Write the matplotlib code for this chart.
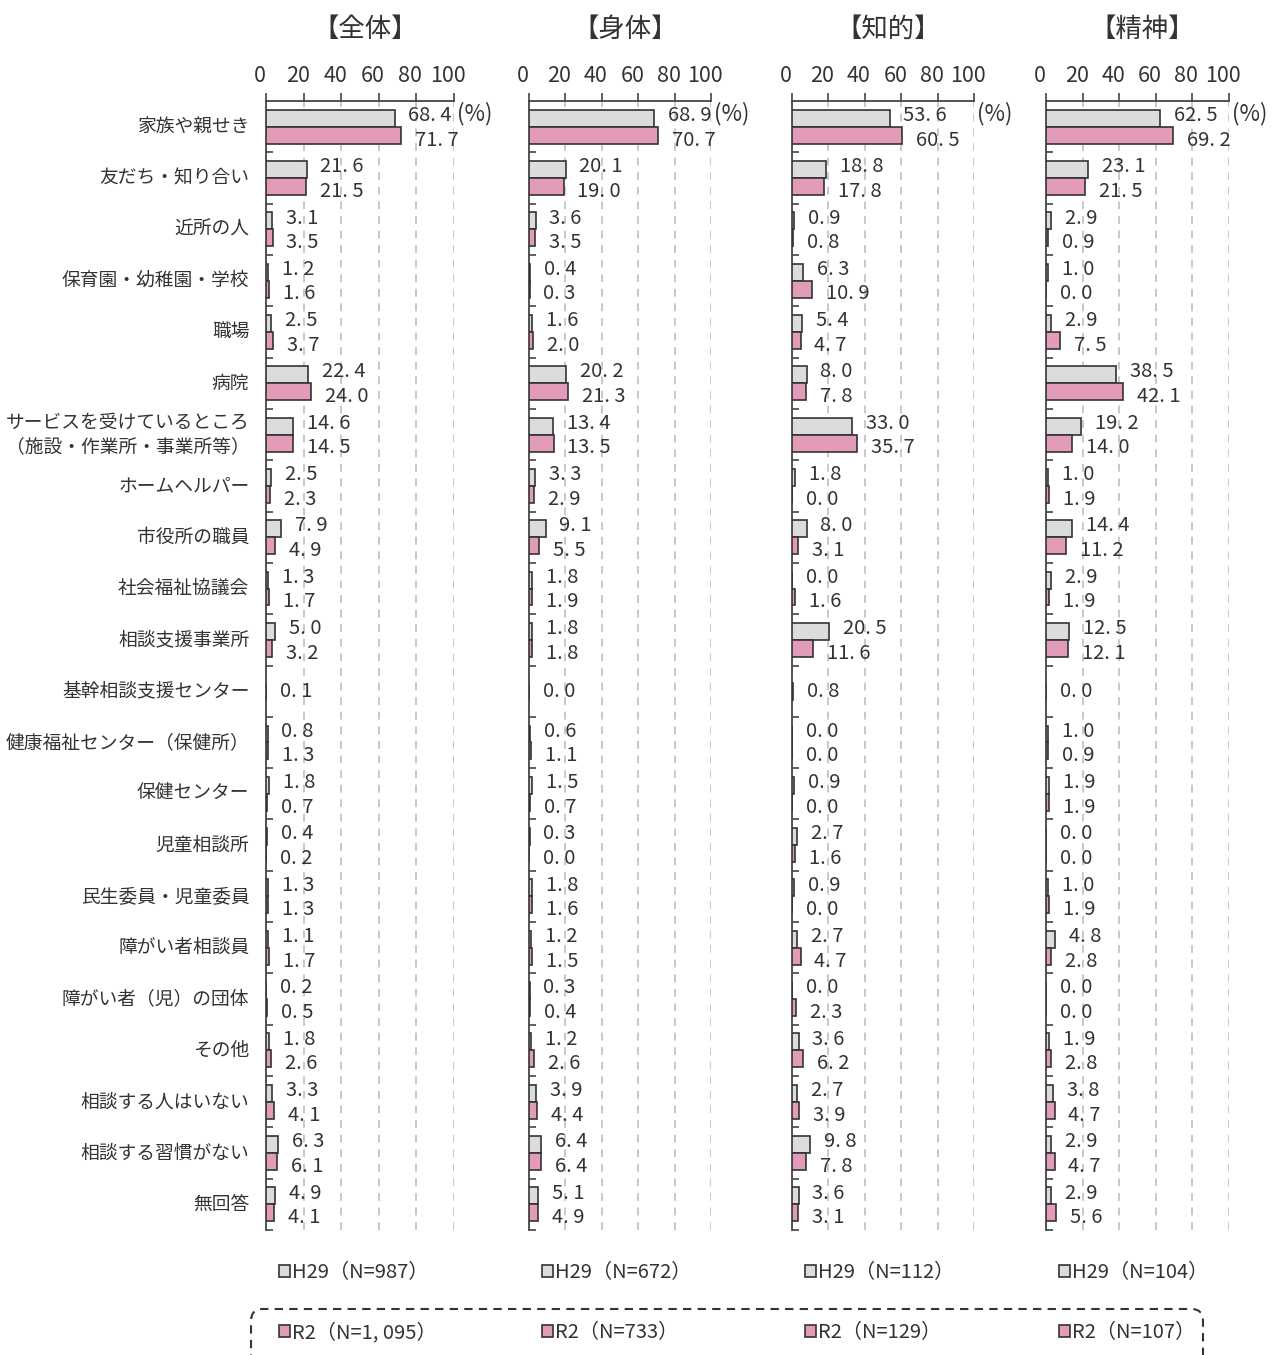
import numpy as np
import matplotlib
matplotlib.use("Agg")
import matplotlib.pyplot as plt
import matplotlib.transforms as mtransforms
from matplotlib.patches import FancyBboxPatch

plt.rcParams['font.family'] = ['Noto Sans CJK JP', 'DejaVu Sans']

categories = [
    "家族や親せき",
    "友だち・知り合い",
    "近所の人",
    "保育園・幼稚園・学校",
    "職場",
    "病院",
    "サービスを受けているところ\n（施設・作業所・事業所等）",
    "ホームヘルパー",
    "市役所の職員",
    "社会福祉協議会",
    "相談支援事業所",
    "基幹相談支援センター",
    "健康福祉センター（保健所）",
    "保健センター",
    "児童相談所",
    "民生委員・児童委員",
    "障がい者相談員",
    "障がい者（児）の団体",
    "その他",
    "相談する人はいない",
    "相談する習慣がない",
    "無回答",
]

panel_titles = ["【全体】", "【身体】", "【知的】", "【精神】"]
h29_labels = ["H29（N=987）", "H29（N=672）", "H29（N=112）", "H29（N=104）"]
r2_labels = ["R2（N=1, 095）", "R2（N=733）", "R2（N=129）", "R2（N=107）"]

# None: item not asked in H29
all_h29 = [68.4, 21.6, 3.1, 1.2, 2.5, 22.4, 14.6, 2.5, 7.9, 1.3, 5.0, None,
           0.8, 1.8, 0.4, 1.3, 1.1, 0.2, 1.8, 3.3, 6.3, 4.9]
all_r2 = [71.7, 21.5, 3.5, 1.6, 3.7, 24.0, 14.5, 2.3, 4.9, 1.7, 3.2, 0.1,
          1.3, 0.7, 0.2, 1.3, 1.7, 0.5, 2.6, 4.1, 6.1, 4.1]

phys_h29 = [68.9, 20.1, 3.6, 0.4, 1.6, 20.2, 13.4, 3.3, 9.1, 1.8, 1.8, None,
            0.6, 1.5, 0.3, 1.8, 1.2, 0.3, 1.2, 3.9, 6.4, 5.1]
phys_r2 = [70.7, 19.0, 3.5, 0.3, 2.0, 21.3, 13.5, 2.9, 5.5, 1.9, 1.8, 0.0,
           1.1, 0.7, 0.0, 1.6, 1.5, 0.4, 2.6, 4.4, 6.4, 4.9]

intel_h29 = [53.6, 18.8, 0.9, 6.3, 5.4, 8.0, 33.0, 1.8, 8.0, 0.0, 20.5, None,
             0.0, 0.9, 2.7, 0.9, 2.7, 0.0, 3.6, 2.7, 9.8, 3.6]
intel_r2 = [60.5, 17.8, 0.8, 10.9, 4.7, 7.8, 35.7, 0.0, 3.1, 1.6, 11.6, 0.8,
            0.0, 0.0, 1.6, 0.0, 4.7, 2.3, 6.2, 3.9, 7.8, 3.1]

mental_h29 = [62.5, 23.1, 2.9, 1.0, 2.9, 38.5, 19.2, 1.0, 14.4, 2.9, 12.5, None,
              1.0, 1.9, 0.0, 1.0, 4.8, 0.0, 1.9, 3.8, 2.9, 2.9]
mental_r2 = [69.2, 21.5, 0.9, 0.0, 7.5, 42.1, 14.0, 1.9, 11.2, 1.9, 12.1, 0.0,
             0.9, 1.9, 0.0, 1.9, 2.8, 0.0, 2.8, 4.7, 4.7, 5.6]

panels = [(all_h29, all_r2), (phys_h29, phys_r2),
          (intel_h29, intel_r2), (mental_h29, mental_r2)]

W, H = 1277, 1355
fig = plt.figure(figsize=(W / 100, H / 100), dpi=100)

GRAY = "#dcdcdc"
PINK = "#e29bb9"
EDGE = "#333333"
TXT = "#333333"

# pixel extents of each panel (x of 0 %, x of 100 %)
px_x = [(266, 454), (529, 711), (792, 974), (1046, 1229)]
top_px, bot_px = 101, 1230
bh = 0.33
n = len(categories)
ypos = np.arange(n)

def fmt(v):
    return f"{v:.1f}".replace(".", ". ")

axes = []
for k, ((x0, x1), (h29, r2)) in enumerate(zip(px_x, panels)):
    ax = fig.add_axes([x0 / W, 1 - bot_px / H, (x1 - x0) / W, (bot_px - top_px) / H])
    axes.append(ax)
    ax.set_xlim(0, 100)
    ax.set_ylim(n - 0.5, -0.5)

    single = [h is None for h in h29]
    yh = [i - bh / 2 for i in ypos if not single[i]]
    vh = [h29[i] for i in ypos if not single[i]]
    yr = [i if single[i] else i + bh / 2 for i in ypos]

    bars_h = ax.barh(yh, vh, height=bh, color=GRAY, edgecolor=EDGE, linewidth=1.2, zorder=3)
    bars_r = ax.barh(yr, r2, height=bh, color=PINK, edgecolor=EDGE, linewidth=1.2, zorder=3)

    for i in ypos:
        if single[i]:
            ax.annotate(fmt(r2[i]), xy=(r2[i], i), xytext=(10, 0), textcoords="offset points",
                        ha="left", va="center", fontsize=14.5, color=TXT)
        else:
            ax.annotate(fmt(h29[i]), xy=(h29[i], i - 0.22), xytext=(10, 0), textcoords="offset points",
                        ha="left", va="center", fontsize=14.5, color=TXT)
            ax.annotate(fmt(r2[i]), xy=(r2[i], i + 0.26), xytext=(10, 0), textcoords="offset points",
                        ha="left", va="center", fontsize=14.5, color=TXT)

    # dashed vertical grid
    for gx in [20, 40, 60, 80, 100]:
        ax.axvline(gx, color="#c8c8c8", lw=1.4, linestyle=(0, (4, 3.5)), zorder=1)

    ax.spines["right"].set_visible(False)
    ax.spines["bottom"].set_visible(False)
    for s in ["top", "left"]:
        ax.spines[s].set_color("#444444")
        ax.spines[s].set_linewidth(1.3)

    ax.xaxis.tick_top()
    ax.set_xticks([0, 20, 40, 60, 80, 100])
    ax.tick_params(axis="x", direction="out", length=6, width=1.2, color="#444444",
                   labelsize=15.5, labelcolor=TXT, pad=4)
    shift = mtransforms.ScaledTranslation(-6 / 100, 0, fig.dpi_scale_trans)
    for lab in ax.get_xticklabels():
        lab.set_transform(lab.get_transform() + shift)

    ax.set_yticks(np.arange(n) + 0.5)
    ax.set_yticklabels([])
    ax.tick_params(axis="y", direction="in", length=5, width=1.2, color="#444444")

    ax.text(101.5, -0.25, "(%)", ha="left", va="center", fontsize=16, color=TXT,
            transform=ax.transData, clip_on=False)

    # panel title
    cx = (x0 + x1) / 2 + 5
    fig.text(cx / W, 1 - 29 / H, panel_titles[k], ha="center", va="center",
             fontsize=19, color=TXT)

    # legends
    lx = (x0 + 13) / W
    leg1 = ax.legend(handles=[bars_h], labels=[h29_labels[k]], loc="center left",
                     bbox_to_anchor=(lx, 1 - 1273 / H), bbox_transform=fig.transFigure,
                     frameon=False, fontsize=14.5, handlelength=0.55, handleheight=0.55,
                     handletextpad=0.1, borderpad=0, borderaxespad=0, labelcolor=TXT)
    ax.add_artist(leg1)
    ax.legend(handles=[bars_r], labels=[r2_labels[k]], loc="center left",
              bbox_to_anchor=(lx, 1 - 1333 / H), bbox_transform=fig.transFigure,
              frameon=False, fontsize=14.5, handlelength=0.55, handleheight=0.55,
              handletextpad=0.1, borderpad=0, borderaxespad=0, labelcolor=TXT)

# category labels on the first panel
ax0 = axes[0]
for i, c in enumerate(categories):
    ax0.annotate(c, xy=(0, i), xycoords=("axes fraction", "data"), xytext=(-12, 0),
                 textcoords="offset points", ha="right", va="center", fontsize=13.5,
                 color=TXT, linespacing=1.2, multialignment="right")

# dashed rounded frame around the R2 legend row
box = FancyBboxPatch((251 / W, -0.05), (1203 - 251) / W, (0.05 + 1 - 1309 / H),
                     boxstyle="round,pad=0,rounding_size=0.009",
                     transform=fig.transFigure, fill=False, edgecolor=EDGE,
                     linewidth=1.5, linestyle=(0, (4, 3)))
fig.patches.append(box)

fig.savefig("out.png", dpi=100)
